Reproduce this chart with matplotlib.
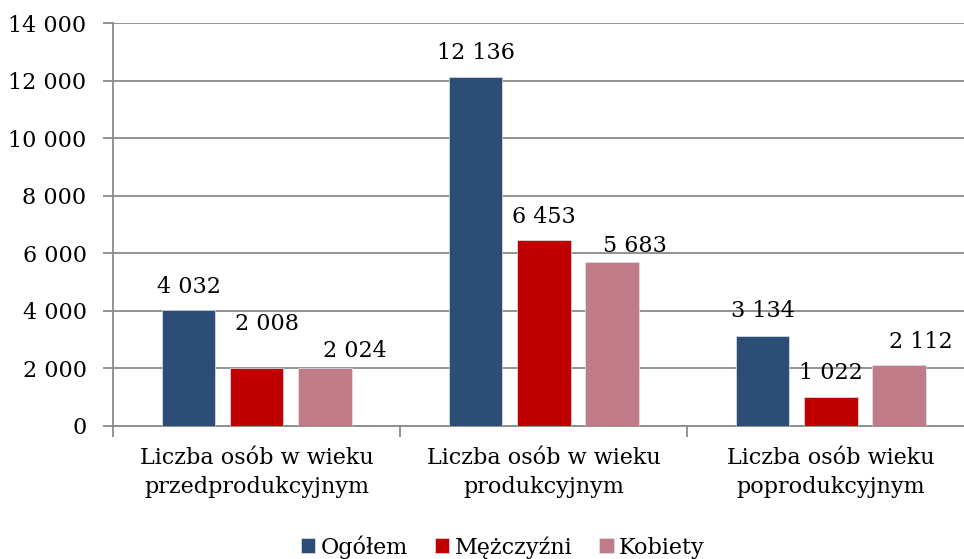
import numpy as np
import matplotlib.pyplot as plt

plt.rcParams['font.family'] = ['DejaVu Serif']

categories = ['Liczba osób w wieku\nprzedprodukcyjnym',
              'Liczba osób w wieku\nprodukcyjnym',
              'Liczba osób wieku\npoprodukcyjnym']
series_names = ['Ogółem', 'Mężczyźni', 'Kobiety']
ogolem = [4032, 12136, 3134]
mezczyzni = [2008, 6453, 1022]
kobiety = [2024, 5683, 2112]
colors = ['#2C4D75', '#C00000', '#C07B88']

# label nudges in pixels (dx, dy above bar top), as placed in the original
label_shift = [[(0, 17), (0, 18), (0, 19)],
               [(10, 38), (0, 17), (0, 18)],
               [(30, 11), (23, 10), (22, 17)]]

def fmt(v):
    return f'{v:,}'.replace(',', ' ')

fig = plt.figure(figsize=(9.64, 5.59), dpi=100)
ax = fig.add_axes([113 / 964, 133 / 559, 1 - 113 / 964, 403 / 559])

x = np.arange(len(categories))
width = 0.188
step = 0.237
grid_c = '#898989'
for i, (vals, name) in enumerate(zip([ogolem, mezczyzni, kobiety], series_names)):
    bars = ax.bar(x + (i - 1) * step, vals, width, color=colors[i], label=name,
                  edgecolor='#dde3ec', linewidth=0.5, zorder=3)
    for j, (b, v) in enumerate(zip(bars, vals)):
        dx, dy = label_shift[i][j]
        ax.annotate(fmt(v), (b.get_x() + b.get_width() / 2, v),
                    xytext=(dx * 0.72, dy * 0.72), textcoords='offset points',
                    ha='center', va='baseline', fontsize=16, zorder=4)

ax.set_ylim(0, 14000)
ax.set_xlim(-0.5, 2.465)
yt = np.arange(0, 14001, 2000)
ax.set_yticks(yt)
ax.set_yticklabels([fmt(v) for v in yt], fontsize=16)
ax.yaxis.grid(True, color=grid_c, linewidth=1.3, zorder=0)
ax.tick_params(axis='y', length=7, color=grid_c, width=1.3, pad=12)

ax.set_xticks(x)
ax.set_xticklabels(categories, fontsize=16, linespacing=1.45)
ax.tick_params(axis='x', which='major', length=0, pad=15)
ax.set_xticks([-0.5, 0.5, 1.5], minor=True)
ax.tick_params(axis='x', which='minor', length=8, color=grid_c, width=1.3)

for s in ['top', 'right']:
    ax.spines[s].set_visible(False)
for s in ['left', 'bottom']:
    ax.spines[s].set_color(grid_c)
    ax.spines[s].set_linewidth(1.3)

fig.legend(loc='lower center', bbox_to_anchor=(503 / 964, -0.035), ncol=3,
           frameon=False, fontsize=16, handlelength=0.65, handleheight=0.65,
           handletextpad=0.25, columnspacing=1.2)

fig.savefig('out.png', dpi=100)
